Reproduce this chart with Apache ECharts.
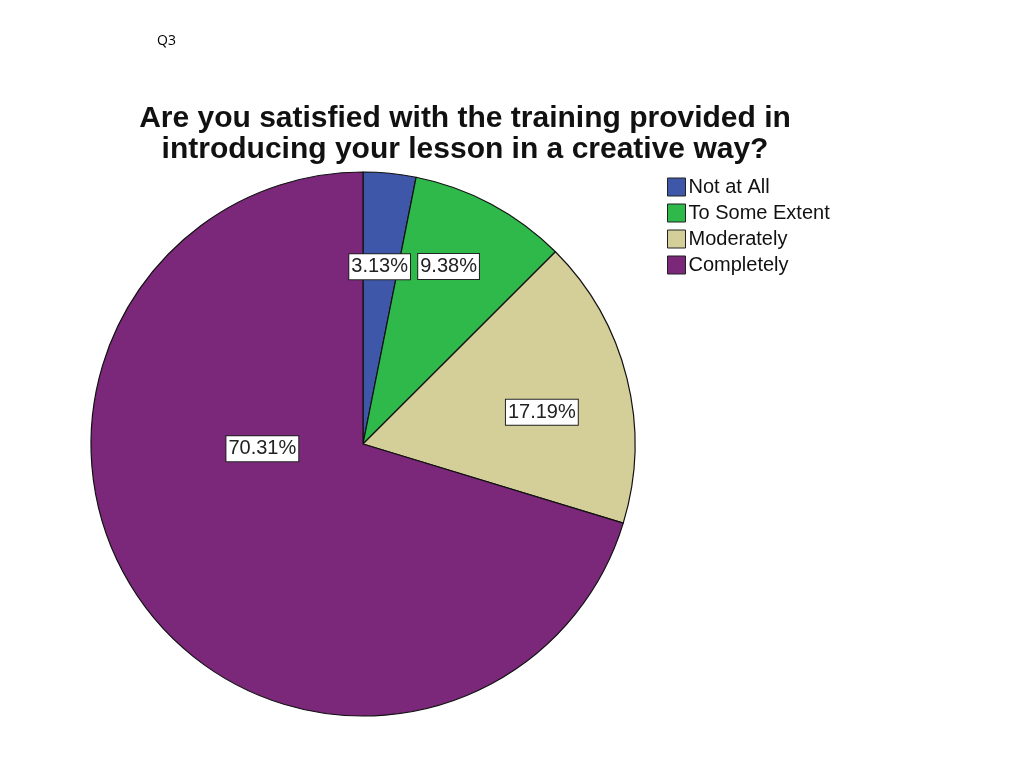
<!DOCTYPE html>
<html><head><meta charset="utf-8">
<script src="https://cdn.jsdelivr.net/npm/echarts@6/dist/echarts.min.js"></script>
<style>html,body{margin:0;padding:0;background:#fff}#c{width:1024px;height:768px}</style>
</head><body><div id="c"></div>
<script>
const categories = ['Not at All', 'To Some Extent', 'Moderately', 'Completely'];
const values = [3.13, 9.38, 17.19, 70.31];
const colors = ['#3F57A9', '#2FB94B', '#D4CF99', '#7B277A'];
const labelShift = [[3, -39], [20, -55], [44, 2], [11, -78]];

const chart = echarts.init(document.getElementById('c'));
chart.setOption({
  animation: false,
  backgroundColor: '#fff',
  graphic: [{
    type: 'text', left: 157, top: 34,
    style: { text: 'Q3', font: '14px "Open Sans", sans-serif', fill: '#000' }
  }],
  title: {
    text: 'Are you satisfied with the training provided in\nintroducing your lesson in a creative way?',
    left: 460, top: 98, textAlign: 'center',
    textStyle: { fontFamily: 'Liberation Sans, Arial, sans-serif', fontWeight: 'bold', fontSize: 30, lineHeight: 31, color: '#111' }
  },
  legend: {
    orient: 'vertical', left: 662, top: 172,
    icon: 'rect', itemWidth: 18, itemHeight: 18, itemGap: 6,
    data: categories,
    itemStyle: { borderColor: '#222', borderWidth: 1 },
    textStyle: { fontFamily: 'Liberation Sans, Arial, sans-serif', fontSize: 20, color: '#111', padding: [0, 0, 0, -2] }
  },
  series: [{
    type: 'pie',
    center: [363, 444],
    radius: [0, 272],
    startAngle: 90,
    clockwise: true,
    data: categories.map((n, i) => ({ name: n, value: values[i], itemStyle: { color: colors[i] } })),
    itemStyle: { borderColor: '#111', borderWidth: 1.2 },
    label: {
      show: true, position: 'inside',
      formatter: p => p.value.toFixed(2) + '%',
      fontFamily: 'Liberation Sans, Arial, sans-serif', fontSize: 20, color: '#222',
      backgroundColor: '#fff', borderColor: '#222', borderWidth: 1, padding: [3, 2, 2, 2]
    },
    labelLayout: p => ({ dx: labelShift[p.dataIndex][0], dy: labelShift[p.dataIndex][1] }),
    labelLine: { show: false },
    emphasis: { disabled: true }
  }]
});
</script></body></html>
